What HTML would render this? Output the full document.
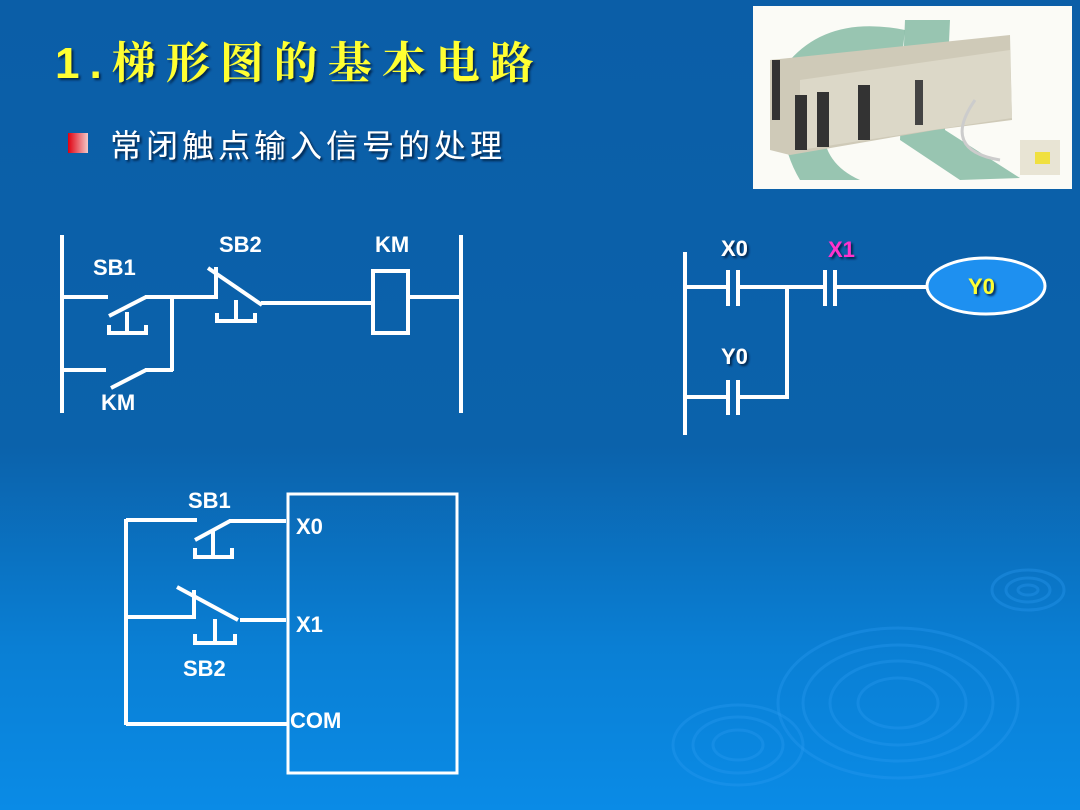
<!DOCTYPE html>
<html><head><meta charset="utf-8"><style>
html,body{margin:0;padding:0;}
body{width:1080px;height:810px;overflow:hidden;background:linear-gradient(to bottom,#0b5ea7 0%,#0b62ab 55%,#0a7fd4 80%,#0a8be6 100%);position:relative;font-family:"Liberation Sans","Noto Sans CJK SC",sans-serif;}
svg{position:absolute;left:0;top:0;}
</style></head><body>
<svg width="1080" height="810" viewBox="0 0 1080 810">
<defs>
<linearGradient id="bul" x1="0" x2="1"><stop offset="0" stop-color="#e00010"/><stop offset="1" stop-color="#f4c8c8"/></linearGradient>
<filter id="sh"><feDropShadow dx="2" dy="2" stdDeviation="1" flood-color="#001a40" flood-opacity="0.9"/></filter>
</defs>
<!-- ripples -->
<g fill="none" stroke="#2a9cf0" stroke-opacity="0.35" stroke-width="3">
<ellipse cx="898" cy="703" rx="120" ry="75"/>
<ellipse cx="898" cy="703" rx="95" ry="58"/>
<ellipse cx="898" cy="703" rx="68" ry="42"/>
<ellipse cx="898" cy="703" rx="40" ry="25"/>
<ellipse cx="738" cy="745" rx="65" ry="40"/>
<ellipse cx="738" cy="745" rx="45" ry="28"/>
<ellipse cx="738" cy="745" rx="25" ry="15"/>
<ellipse cx="1028" cy="590" rx="36" ry="20"/>
<ellipse cx="1028" cy="590" rx="22" ry="12"/>
<ellipse cx="1028" cy="590" rx="10" ry="5"/>
</g>
<!-- photo -->
<rect x="753" y="6" width="319" height="183" fill="#fbfbf6"/>
<path d="M790 60 Q830 15 905 30 L900 75 Q850 60 825 110 Q815 160 860 180 L800 180 Q770 130 790 60Z" fill="#7fb8a0" opacity="0.8"/>
<path d="M905 20 L950 20 L945 130 L1020 178 L960 180 L900 140Z" fill="#7fb8a0" opacity="0.8"/>
<path d="M770 60 L1010 35 L1012 120 L935 130 L790 155 L770 150Z" fill="#cfcab8"/>
<path d="M800 80 L1010 50 L1012 118 L800 150Z" fill="#dcd8c8"/>
<rect x="795" y="95" width="12" height="55" fill="#333"/>
<rect x="817" y="92" width="12" height="55" fill="#333"/>
<rect x="858" y="85" width="12" height="55" fill="#333"/>
<rect x="915" y="80" width="8" height="45" fill="#444"/>
<rect x="772" y="60" width="8" height="60" fill="#333"/>
<path d="M975 100 Q940 150 1000 160" stroke="#ccc" stroke-width="3" fill="none"/>
<rect x="1020" y="140" width="40" height="35" fill="#e8e4d4"/>
<rect x="1035" y="152" width="15" height="12" fill="#f0e040"/>
<!-- title -->
<text x="55" y="78" font-family="'Liberation Sans','Noto Serif CJK SC',serif" font-weight="bold" font-size="44" fill="#ffff33" letter-spacing="10" filter="url(#sh)">1.梯形图的基本电路</text>
<rect x="68" y="133" width="20" height="20" fill="url(#bul)"/>
<text x="110" y="157" font-family="'Liberation Sans','Noto Sans CJK SC',sans-serif" font-size="32" fill="#fff" letter-spacing="4" filter="url(#sh)">常闭触点输入信号的处理</text>
<!-- diagram 1 -->
<g stroke="#fff" stroke-width="4" fill="none">
<line x1="62" y1="235" x2="62" y2="413"/>
<line x1="461" y1="235" x2="461" y2="413"/>
<line x1="62" y1="297" x2="108" y2="297"/>
<line x1="109" y1="316" x2="146" y2="297"/>
<line x1="145" y1="297" x2="217" y2="297"/>
<line x1="216" y1="267" x2="216" y2="299"/>
<line x1="208" y1="268" x2="262" y2="305"/>
<line x1="261" y1="303" x2="372" y2="303"/>
<rect x="373" y="271" width="35" height="62"/>
<line x1="408" y1="297" x2="461" y2="297"/>
<polyline points="109,325 109,333 146,333 146,325"/>
<line x1="127" y1="333" x2="127" y2="312"/>
<polyline points="217,313 217,321 255,321 255,313"/>
<line x1="236" y1="321" x2="236" y2="300"/>
<line x1="172" y1="297" x2="172" y2="371"/>
<line x1="62" y1="370" x2="106" y2="370"/>
<line x1="111" y1="388" x2="146" y2="370"/>
<line x1="145" y1="370" x2="173" y2="370"/>
</g>
<g fill="#fff" font-weight="bold" font-size="22">
<text x="93" y="275">SB1</text>
<text x="219" y="252">SB2</text>
<text x="375" y="252">KM</text>
<text x="101" y="410">KM</text>
</g>
<!-- diagram 2 -->
<g stroke="#fff" stroke-width="4" fill="none">
<line x1="685" y1="252" x2="685" y2="435"/>
<line x1="685" y1="287" x2="728" y2="287"/>
<line x1="728" y1="270" x2="728" y2="306"/>
<line x1="738" y1="270" x2="738" y2="306"/>
<line x1="738" y1="287" x2="825" y2="287"/>
<line x1="825" y1="270" x2="825" y2="306"/>
<line x1="835" y1="270" x2="835" y2="306"/>
<line x1="835" y1="287" x2="927" y2="287"/>
<line x1="787" y1="287" x2="787" y2="398"/>
<line x1="685" y1="397" x2="728" y2="397"/>
<line x1="728" y1="380" x2="728" y2="415"/>
<line x1="738" y1="380" x2="738" y2="415"/>
<line x1="738" y1="397" x2="789" y2="397"/>
</g>
<ellipse cx="986" cy="286" rx="59" ry="28" fill="#1e90f0" stroke="#fff" stroke-width="3"/>
<g font-weight="bold" font-size="22" filter="url(#sh)">
<text x="721" y="256" fill="#fff">X0</text>
<text x="828" y="257" fill="#ff33cc">X1</text>
<text x="721" y="364" fill="#fff">Y0</text>
<text x="968" y="294" fill="#ffff33">Y0</text>
</g>
<!-- diagram 3 -->
<g stroke="#fff" stroke-width="4" fill="none">
<rect x="288" y="494" width="169" height="279" stroke-width="3"/>
<line x1="126" y1="519" x2="126" y2="725"/>
<line x1="126" y1="520" x2="197" y2="520"/>
<line x1="195" y1="540" x2="230" y2="521"/>
<line x1="229" y1="521" x2="286" y2="521"/>
<polyline points="195,548 195,557 232,557 232,548"/>
<line x1="213" y1="557" x2="213" y2="531"/>
<line x1="126" y1="617" x2="195" y2="617"/>
<line x1="194" y1="619" x2="194" y2="590"/>
<line x1="177" y1="587" x2="238" y2="620"/>
<line x1="240" y1="620" x2="286" y2="620"/>
<polyline points="195,634 195,643 235,643 235,634"/>
<line x1="215" y1="643" x2="215" y2="619"/>
<line x1="126" y1="724" x2="288" y2="724"/>
</g>
<g fill="#fff" font-weight="bold" font-size="22">
<text x="188" y="508">SB1</text>
<text x="296" y="534">X0</text>
<text x="296" y="632">X1</text>
<text x="183" y="676">SB2</text>
<text x="290" y="728">COM</text>
</g>
</svg>
</body></html>
